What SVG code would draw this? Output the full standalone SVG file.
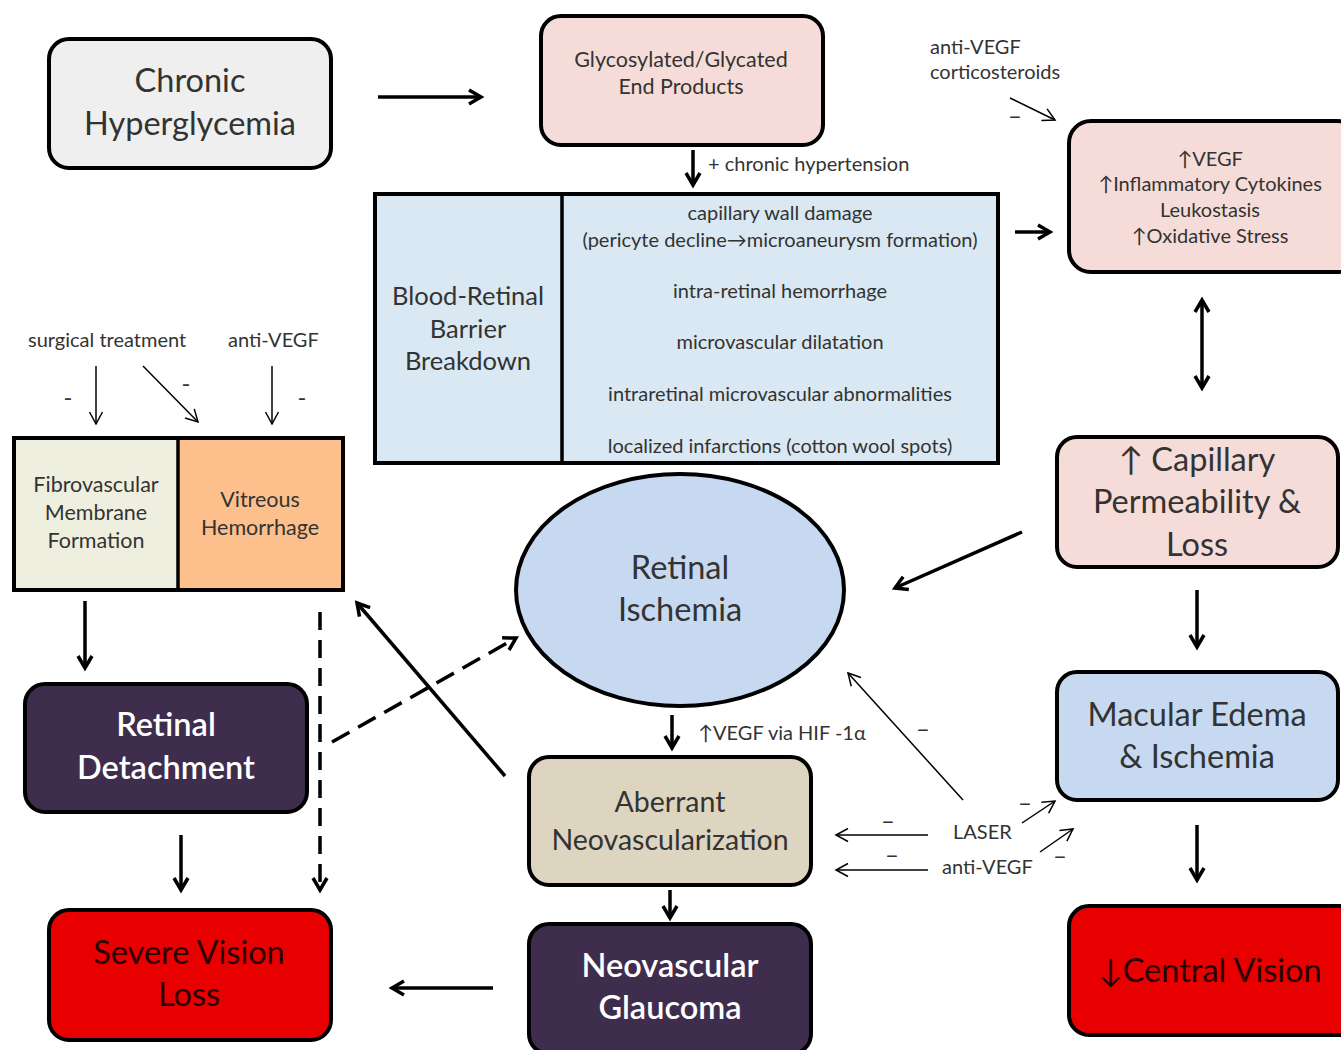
<svg xmlns="http://www.w3.org/2000/svg" width="1341" height="1050" viewBox="0 0 1341 1050">
<style>
text{font-family:Lato,"Open Sans","Liberation Sans",sans-serif;fill:#333;text-anchor:middle}
.box{stroke:#000;stroke-width:4}
.big{font-size:32.5px}
.med{font-size:25.5px}
.ab{font-size:28.5px}
.sm{font-size:21.5px}
.xs{font-size:20px}
.mn{font-size:24px}
.lbl{text-anchor:start}
.wt{fill:#fff;font-weight:600}
.dk{fill:#2a0000}
.thick{stroke:#000;stroke-width:3.5;fill:none;marker-end:url(#ah)}
.thin{stroke:#000;stroke-width:1.5;fill:none;marker-end:url(#ahs)}
</style>
<defs>
<marker id="ah" markerUnits="userSpaceOnUse" markerWidth="20" markerHeight="20" refX="14" refY="8" orient="auto-start-reverse" overflow="visible">
<path d="M2,1 L14,8 L2,15" fill="none" stroke="#000" stroke-width="3.5"/>
</marker>
<marker id="ahs" markerUnits="userSpaceOnUse" markerWidth="20" markerHeight="20" refX="14" refY="8" orient="auto" overflow="visible">
<path d="M2,1.5 L14,8 L2,14.5" fill="none" stroke="#000" stroke-width="1.5"/>
</marker>
</defs>
<rect width="1341" height="1050" fill="#fff"/>

<g id="chronic-hyperglycemia">
<rect class="box" x="49" y="39" width="282" height="129" rx="20" fill="#efefef"/>
<text class="big" x="190" y="92">Chronic</text>
<text class="big" x="190" y="135">Hyperglycemia</text>
</g>

<g id="glycosylated">
<rect class="box" x="541" y="16" width="282" height="129" rx="20" fill="#f5dcd8"/>
<text class="sm" x="681" y="67">Glycosylated/Glycated</text>
<text class="sm" x="681" y="94">End Products</text>
</g>

<g id="brb">
<rect class="box" x="375" y="194" width="623" height="269" fill="#d9e8f2"/>
<line x1="562" y1="194" x2="562" y2="463" stroke="#000" stroke-width="3.5"/>
<text class="med" x="468" y="305">Blood-Retinal</text>
<text class="med" x="468" y="338">Barrier</text>
<text class="med" x="468" y="370">Breakdown</text>
<text class="xs" x="780" y="220">capillary wall damage</text>
<text class="xs" x="780" y="247">(pericyte decline→microaneurysm formation)</text>
<text class="xs" x="780" y="298">intra-retinal hemorrhage</text>
<text class="xs" x="780" y="349">microvascular dilatation</text>
<text class="xs" x="780" y="401">intraretinal microvascular abnormalities</text>
<text class="xs" x="780" y="453">localized infarctions (cotton wool spots)</text>
</g>

<g id="vegf">
<rect class="box" x="1069" y="121" width="290" height="151" rx="22" fill="#f5dcd8"/>
<text class="xs" x="1210" y="166">↑VEGF</text>
<text class="xs" x="1210" y="191">↑Inflammatory Cytokines</text>
<text class="xs" x="1210" y="217">Leukostasis</text>
<text class="xs" x="1210" y="243">↑Oxidative Stress</text>
</g>

<g id="capillary-permeability">
<rect class="box" x="1057" y="437" width="281" height="130" rx="20" fill="#f5dcd8"/>
<text class="big" x="1197" y="471">↑ Capillary</text>
<text class="big" x="1197" y="513">Permeability &amp;</text>
<text class="big" x="1197" y="556">Loss</text>
</g>

<g id="macular-edema">
<rect class="box" x="1057" y="672" width="281" height="128" rx="20" fill="#c6d9f0"/>
<text class="big" x="1197" y="726">Macular Edema</text>
<text class="big" x="1197" y="768">&amp; Ischemia</text>
</g>

<g id="central-vision">
<rect class="box" x="1069" y="906" width="290" height="129" rx="20" fill="#e80000"/>
<text class="big dk" x="1210" y="982">↓Central Vision</text>
</g>

<g id="retinal-ischemia">
<ellipse cx="680" cy="590" rx="164" ry="116" stroke="#000" stroke-width="4" fill="#c6d9f0"/>
<text class="big" x="680" y="579">Retinal</text>
<text class="big" x="680" y="621">Ischemia</text>
</g>

<g id="aberrant-neovascularization">
<rect class="box" x="529" y="757" width="282" height="128" rx="20" fill="#ddd5c0"/>
<text class="ab" x="670" y="812">Aberrant</text>
<text class="ab" x="670" y="850">Neovascularization</text>
</g>

<g id="neovascular-glaucoma">
<rect class="box" x="529" y="924" width="282" height="130" rx="20" fill="#3f2d4d"/>
<text class="big wt" x="670" y="977">Neovascular</text>
<text class="big wt" x="670" y="1019">Glaucoma</text>
</g>

<g id="severe-vision-loss">
<rect class="box" x="49" y="910" width="282" height="130" rx="20" fill="#e80000"/>
<text class="big dk" x="189" y="964">Severe Vision</text>
<text class="big dk" x="189" y="1006">Loss</text>
</g>

<g id="retinal-detachment">
<rect class="box" x="25" y="684" width="282" height="128" rx="20" fill="#3f2d4d"/>
<text class="big wt" x="166" y="736">Retinal</text>
<text class="big wt" x="166" y="779">Detachment</text>
</g>

<g id="fibrovascular-vitreous">
<rect x="14" y="438" width="164" height="152" fill="#efefe0"/>
<rect x="178" y="438" width="165" height="152" fill="#fdc08d"/>
<rect x="14" y="438" width="329" height="152" fill="none" stroke="#000" stroke-width="4"/>
<line x1="178" y1="438" x2="178" y2="590" stroke="#000" stroke-width="3.5"/>
<text class="sm" x="96" y="492">Fibrovascular</text>
<text class="sm" x="96" y="520">Membrane</text>
<text class="sm" x="96" y="548">Formation</text>
<text class="sm" x="260" y="507">Vitreous</text>
<text class="sm" x="260" y="535">Hemorrhage</text>
</g>

<g id="labels">
<text class="xs lbl" x="708" y="171">+ chronic hypertension</text>
<text class="xs lbl" x="930" y="54">anti-VEGF</text>
<text class="xs lbl" x="930" y="79">corticosteroids</text>
<text class="xs lbl" x="28" y="347">surgical treatment</text>
<text class="xs lbl" x="228" y="347">anti-VEGF</text>
<text class="xs lbl" x="698" y="740">↑VEGF via HIF -1α</text>
<text class="xs lbl" x="953" y="839">LASER</text>
<text class="xs lbl" x="942" y="874">anti-VEGF</text>
<text class="mn" x="1015" y="124">–</text>
<text class="mn" x="68" y="406">-</text>
<text class="mn" x="186" y="392">-</text>
<text class="mn" x="302" y="406">-</text>
<text class="mn" x="888" y="829">–</text>
<text class="mn" x="892" y="863">–</text>
<text class="mn" x="923" y="737">–</text>
<text class="mn" x="1025" y="811">–</text>
<text class="mn" x="1060" y="864">–</text>
</g>

<g id="connectors">
<line class="thick" x1="378" y1="97" x2="481" y2="97"/>
<line class="thick" x1="693" y1="150" x2="693" y2="185"/>
<line class="thick" x1="1015" y1="232" x2="1050" y2="232"/>
<line class="thick" x1="1202" y1="300" x2="1202" y2="388" marker-start="url(#ah)"/>
<line class="thick" x1="1022" y1="532" x2="895" y2="588"/>
<line class="thick" x1="1197" y1="590" x2="1197" y2="647"/>
<line class="thick" x1="1197" y1="825" x2="1197" y2="880"/>
<line class="thick" x1="672" y1="715" x2="672" y2="748"/>
<line class="thick" x1="670" y1="890" x2="670" y2="918"/>
<line class="thick" x1="493" y1="988" x2="392" y2="988"/>
<line class="thick" x1="85" y1="601" x2="85" y2="668"/>
<line class="thick" x1="320" y1="612" x2="320" y2="890" stroke-dasharray="18,10"/>
<line class="thick" x1="332" y1="742" x2="516" y2="638" stroke-dasharray="20,10"/>
<line class="thick" x1="505" y1="776" x2="357" y2="603"/>
<line class="thick" x1="181" y1="835" x2="181" y2="890"/>
<line class="thin" x1="1010" y1="98" x2="1055" y2="120"/>
<line class="thin" x1="96" y1="366" x2="96" y2="424"/>
<line class="thin" x1="143" y1="366" x2="198" y2="422"/>
<line class="thin" x1="272" y1="366" x2="272" y2="424"/>
<line class="thin" x1="928" y1="835" x2="836" y2="835"/>
<line class="thin" x1="928" y1="870" x2="836" y2="870"/>
<line class="thin" x1="963" y1="800" x2="848" y2="673"/>
<line class="thin" x1="1022" y1="823" x2="1055" y2="801"/>
<line class="thin" x1="1040" y1="852" x2="1073" y2="829"/>
</g>
</svg>
